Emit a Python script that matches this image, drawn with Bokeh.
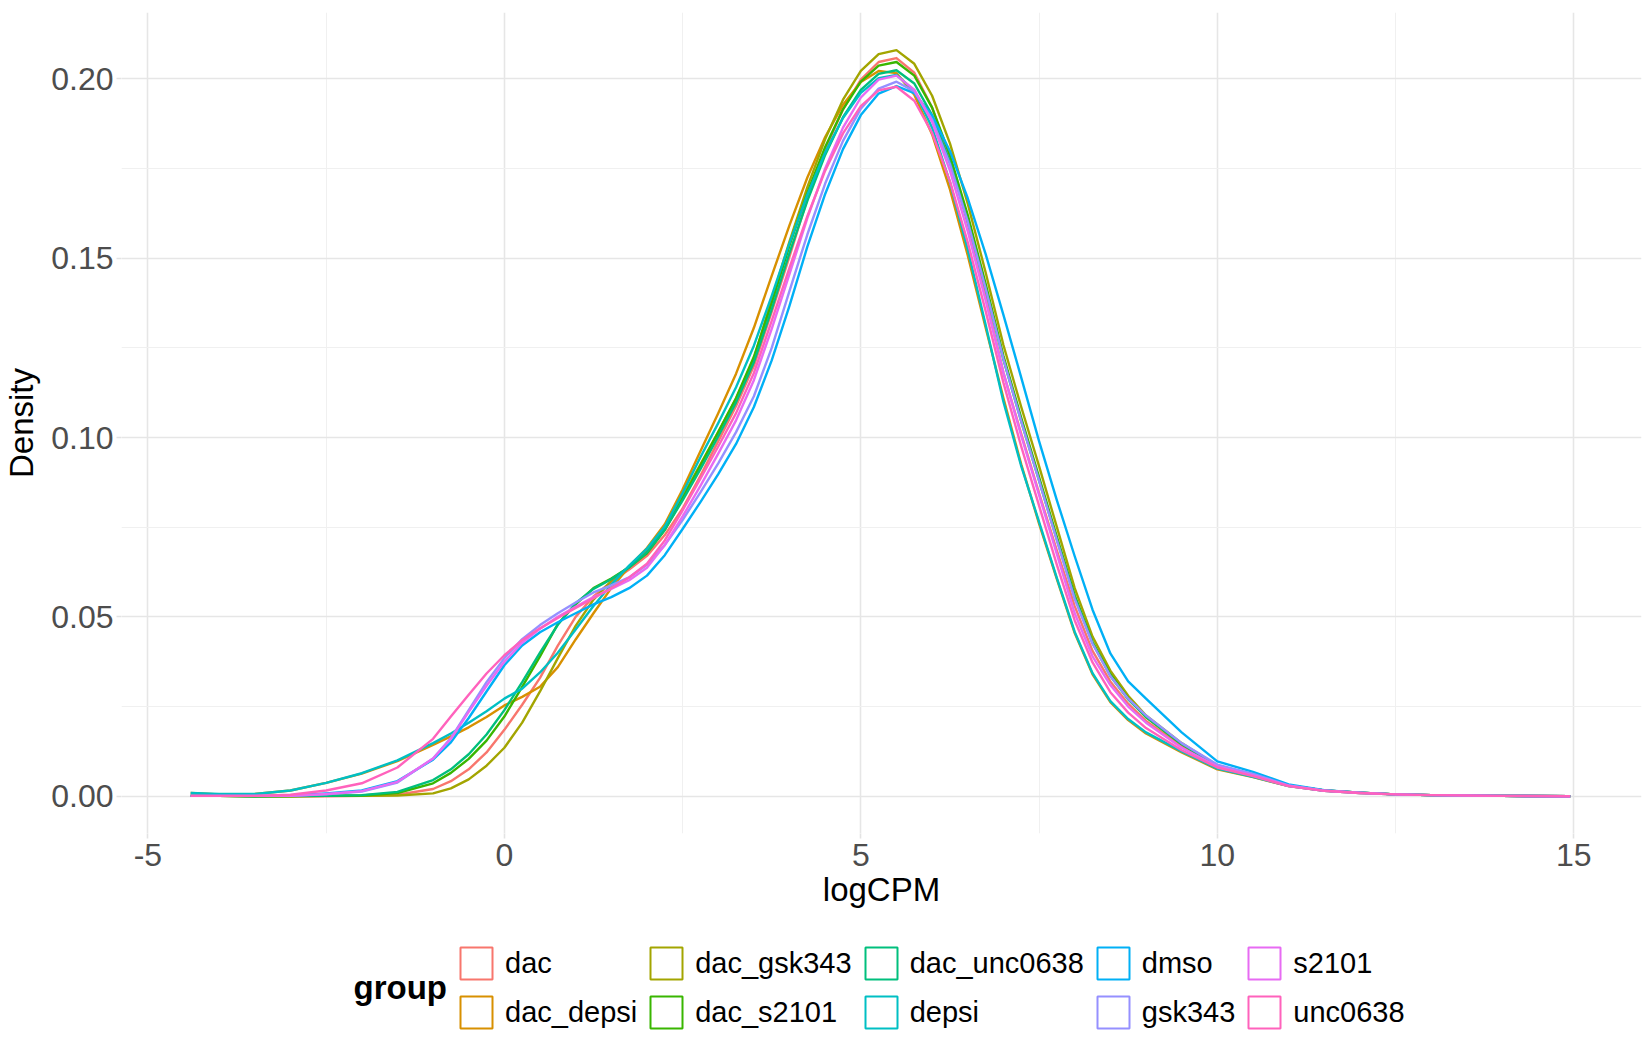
from bokeh.plotting import figure
from bokeh.models import Legend, LegendItem, Range1d, FixedTicker, Label, NumeralTickFormatter
from bokeh.layouts import column
from bokeh.embed import file_html
from bokeh.resources import INLINE

FONT = "Liberation Sans"
NAN = float("nan")

groups = ["dac", "dac_depsi", "dac_gsk343", "dac_s2101", "dac_unc0638",
          "depsi", "dmso", "gsk343", "s2101", "unc0638"]
colors = ["#F8766D", "#D89000", "#A3A500", "#39B600", "#00BF7D",
          "#00BFC4", "#00B0F6", "#9590FF", "#E76BF3", "#FF62BC"]

logcpm = [-4.4, -4.0, -3.5, -3.0, -2.5, -2.0, -1.5, -1.0, -0.75, -0.5, -0.25, 0.0,
          0.25, 0.5, 0.75, 1.0, 1.25, 1.5, 1.75, 2.0, 2.25, 2.5, 2.75, 3.0, 3.25, 3.5, 3.75, 4.0,
          4.25, 4.5, 4.75, 5.0, 5.25, 5.5, 5.75, 6.0, 6.25, 6.5, 6.75, 7.0,
          7.25, 7.5, 7.75, 8.0, 8.25, 8.5, 8.75, 9.0, 9.5, 10.0, 10.5, 11.0, 11.5, 12.0, 12.5, 13.0, 14.0, 14.95]

density_dac = [0.0001, 0.0001, 0.0000, 0.0000, 0.0000, 0.0001, 0.0004, 0.0020, 0.0042, 0.0075, 0.0122, 0.0185,
               0.0255, 0.0330, 0.0420, 0.0500, 0.0557, 0.0598, 0.0632, 0.0670, 0.0728, 0.0802, 0.0893, 0.0990, 0.1088, 0.1200, 0.1350, 0.1505,
               0.1665, 0.1803, 0.1915, 0.1998, 0.2047, 0.2058, 0.2017, 0.1920, 0.1776, 0.1595, 0.1393, 0.1181,
               0.1010, 0.0845, 0.0685, 0.0530, 0.0405, 0.0320, 0.0258, 0.0210, 0.0140, 0.0083, 0.0060, 0.0030, 0.0016, 0.0010, 0.0005, 0.0003, 0.0001, 0.0000]
density_dac_depsi = [0.0009, 0.0005, 0.0006, 0.0016, 0.0037, 0.0063, 0.0098, 0.0143, 0.0167, 0.0192, 0.0221, 0.0253,
                     0.0277, 0.0305, 0.0360, 0.0437, 0.0510, 0.0580, 0.0640, 0.0692, 0.0758, 0.0855, 0.0962, 0.1068, 0.1178, 0.1306, 0.1451, 0.1592,
                     0.1725, 0.1838, 0.1928, 0.1991, 0.2022, 0.2016, 0.1956, 0.1845, 0.1692, 0.1508, 0.1307, 0.1110,
                     0.0925, 0.0760, 0.0605, 0.0455, 0.0340, 0.0262, 0.0212, 0.0175, 0.0122, 0.0075, 0.0053, 0.0028, 0.0015, 0.0009, 0.0005, 0.0003, 0.0001, 0.0000]
density_dac_gsk343 = [0.0001, 0.0001, 0.0000, 0.0000, 0.0001, 0.0001, 0.0002, 0.0008, 0.0022, 0.0047, 0.0085, 0.0135,
                      0.0205, 0.0292, 0.0385, 0.0475, 0.0548, 0.0600, 0.0640, 0.0683, 0.0748, 0.0835, 0.0925, 0.1015, 0.1108, 0.1220, 0.1385, 0.1547,
                      0.1698, 0.1832, 0.1942, 0.2022, 0.2069, 0.2080, 0.2042, 0.1953, 0.1820, 0.1652, 0.1461, 0.1258,
                      0.1085, 0.0920, 0.0750, 0.0580, 0.0445, 0.0350, 0.0280, 0.0225, 0.0148, 0.0085, 0.0060, 0.0030, 0.0016, 0.0010, 0.0005, 0.0003, 0.0001, 0.0000]
density_dac_s2101 = [0.0001, 0.0001, 0.0000, 0.0000, 0.0001, 0.0002, 0.0009, 0.0036, 0.0065, 0.0104, 0.0155, 0.0222,
                     0.0305, 0.0390, 0.0480, 0.0535, 0.0580, 0.0607, 0.0638, 0.0677, 0.0742, 0.0830, 0.0922, 0.1015, 0.1110, 0.1225, 0.1375, 0.1536,
                     0.1682, 0.1810, 0.1915, 0.1992, 0.2037, 0.2047, 0.2009, 0.1920, 0.1787, 0.1620, 0.1429, 0.1228,
                     0.1055, 0.0890, 0.0723, 0.0560, 0.0430, 0.0340, 0.0273, 0.0220, 0.0145, 0.0085, 0.0060, 0.0030, 0.0016, 0.0010, 0.0005, 0.0003, 0.0001, 0.0000]
density_dac_unc0638 = [0.0001, 0.0001, 0.0000, 0.0001, 0.0001, 0.0003, 0.0012, 0.0045, 0.0075, 0.0117, 0.0172, 0.0240,
                       0.0318, 0.0400, 0.0478, 0.0538, 0.0578, 0.0605, 0.0638, 0.0680, 0.0743, 0.0825, 0.0912, 0.1003, 0.1098, 0.1210, 0.1357, 0.1515,
                       0.1660, 0.1788, 0.1893, 0.1969, 0.2014, 0.2024, 0.1987, 0.1899, 0.1768, 0.1603, 0.1415, 0.1217,
                       0.1045, 0.0880, 0.0715, 0.0555, 0.0427, 0.0335, 0.0270, 0.0222, 0.0146, 0.0086, 0.0061, 0.0030, 0.0016, 0.0010, 0.0005, 0.0003, 0.0001, 0.0000]
density_depsi = [0.0009, 0.0006, 0.0006, 0.0016, 0.0037, 0.0064, 0.0100, 0.0148, 0.0175, 0.0205, 0.0237, 0.0272,
                 0.0300, 0.0345, 0.0400, 0.0465, 0.0530, 0.0590, 0.0643, 0.0690, 0.0752, 0.0845, 0.0945, 0.1040, 0.1140, 0.1256, 0.1395, 0.1542,
                 0.1677, 0.1795, 0.1891, 0.1961, 0.2002, 0.2011, 0.1967, 0.1864, 0.1712, 0.1524, 0.1315, 0.1100,
                 0.0920, 0.0765, 0.0608, 0.0458, 0.0343, 0.0265, 0.0215, 0.0178, 0.0125, 0.0077, 0.0054, 0.0028, 0.0015, 0.0009, 0.0005, 0.0003, 0.0001, 0.0000]
density_dmso = [0.0001, 0.0001, 0.0001, 0.0002, 0.0008, 0.0016, 0.0042, 0.0102, 0.0150, 0.0218, 0.0292, 0.0365,
                0.0420, 0.0457, 0.0485, 0.0510, 0.0535, 0.0555, 0.0580, 0.0615, 0.0672, 0.0745, 0.0820, 0.0898, 0.0982, 0.1085, 0.1215, 0.1368,
                0.1532, 0.1679, 0.1804, 0.1899, 0.1959, 0.1980, 0.1960, 0.1898, 0.1799, 0.1667, 0.1512, 0.1342,
                0.1167, 0.0990, 0.0825, 0.0669, 0.0520, 0.0398, 0.0320, 0.0272, 0.0178, 0.0097, 0.0068, 0.0033, 0.0017, 0.0010, 0.0005, 0.0003, 0.0001, 0.0000]
density_gsk343 = [0.0001, 0.0001, 0.0001, 0.0001, 0.0005, 0.0013, 0.0038, 0.0105, 0.0162, 0.0240, 0.0318, 0.0385,
                  0.0438, 0.0477, 0.0510, 0.0540, 0.0568, 0.0588, 0.0610, 0.0645, 0.0700, 0.0770, 0.0847, 0.0928, 0.1015, 0.1115, 0.1250, 0.1409,
                  0.1566, 0.1708, 0.1827, 0.1917, 0.1973, 0.1992, 0.1965, 0.1886, 0.1762, 0.1601, 0.1416, 0.1219,
                  0.1045, 0.0880, 0.0713, 0.0550, 0.0425, 0.0335, 0.0272, 0.0225, 0.0148, 0.0088, 0.0062, 0.0030, 0.0016, 0.0010, 0.0005, 0.0003, 0.0001, 0.0000]
density_s2101 = [0.0001, 0.0001, 0.0001, 0.0001, 0.0006, 0.0014, 0.0040, 0.0105, 0.0160, 0.0235, 0.0308, 0.0375,
                 0.0428, 0.0467, 0.0500, 0.0528, 0.0555, 0.0578, 0.0602, 0.0637, 0.0700, 0.0780, 0.0865, 0.0955, 0.1048, 0.1160, 0.1303, 0.1456,
                 0.1612, 0.1750, 0.1864, 0.1948, 0.1998, 0.2009, 0.1970, 0.1880, 0.1744, 0.1575, 0.1383, 0.1181,
                 0.1005, 0.0840, 0.0675, 0.0510, 0.0390, 0.0310, 0.0250, 0.0205, 0.0135, 0.0083, 0.0058, 0.0029, 0.0015, 0.0009, 0.0005, 0.0003, 0.0001, 0.0000]
density_unc0638 = [0.0001, 0.0001, 0.0001, 0.0004, 0.0016, 0.0036, 0.0080, 0.0160, 0.0222, 0.0283, 0.0342, 0.0393,
                   0.0435, 0.0468, 0.0497, 0.0525, 0.0552, 0.0580, 0.0610, 0.0648, 0.0713, 0.0797, 0.0885, 0.0975, 0.1068, 0.1180, 0.1325, 0.1474,
                   0.1617, 0.1744, 0.1848, 0.1924, 0.1968, 0.1978, 0.1939, 0.1849, 0.1714, 0.1544, 0.1353, 0.1153,
                   0.0975, 0.0810, 0.0645, 0.0490, 0.0373, 0.0290, 0.0233, 0.0190, 0.0128, 0.0080, 0.0056, 0.0028, 0.0015, 0.0009, 0.0005, 0.0003, 0.0001, 0.0000]

series = [density_dac, density_dac_depsi, density_dac_gsk343, density_dac_s2101, density_dac_unc0638,
          density_depsi, density_dmso, density_gsk343, density_s2101, density_unc0638]
for s in series:
    if len(s) != len(logcpm):
        raise ValueError("series length mismatch: %d vs %d" % (len(s), len(logcpm)))

x_ticks = [-5, 0, 5, 10, 15]
x_tick_labels = ["-5", "0", "5", "10", "15"]
x_minor = [-2.5, 2.5, 7.5, 12.5]
y_ticks = [0.0, 0.05, 0.10, 0.15, 0.20]
y_minor = [0.025, 0.075, 0.125, 0.175]

p = figure(frame_width=1520, frame_height=821,
           min_border_left=113, min_border_right=1, min_border_top=12, min_border_bottom=90,
           x_range=Range1d(-5.37, 15.95), y_range=Range1d(-0.0104, 0.2185),
           x_axis_label="logCPM", y_axis_label="Density",
           output_backend="svg", toolbar_location=None)
p.outline_line_color = None
p.background_fill_color = "white"
p.border_fill_color = "white"

for g, c, ys in zip(groups, colors, series):
    p.line(logcpm, ys, line_color=c, line_width=2.4, line_join="round")

xt = FixedTicker(ticks=x_ticks, minor_ticks=x_minor)
yt = FixedTicker(ticks=y_ticks, minor_ticks=y_minor)
p.xaxis.ticker = xt
p.yaxis.ticker = yt
p.xgrid.ticker = xt
p.ygrid.ticker = yt
p.xaxis.major_label_overrides = {t: l for t, l in zip(x_ticks, x_tick_labels)}
p.yaxis.formatter = NumeralTickFormatter(format="0.00")

for grid in (p.xgrid, p.ygrid):
    grid.grid_line_color = "#E6E6E6"
    grid.grid_line_width = 1.6
    grid.minor_grid_line_color = "#F0F0F0"
    grid.minor_grid_line_width = 1.0

for ax in (p.xaxis, p.yaxis):
    ax.axis_line_color = None
    ax.major_tick_line_color = "#E3E3E3"
    ax.major_tick_line_width = 1.6
    ax.major_tick_out = 5
    ax.major_tick_in = 0
    ax.minor_tick_out = 0
    ax.minor_tick_in = 0
    ax.major_label_text_font = FONT
    ax.major_label_text_font_size = "32px"
    ax.major_label_text_color = "#4D4D4D"
    ax.axis_label_text_font = FONT
    ax.axis_label_text_font_size = "33px"
    ax.axis_label_text_font_style = "normal"
    ax.axis_label_text_color = "#000000"

p.xaxis.major_label_standoff = 5
p.xaxis.axis_label_standoff = 2
p.yaxis.major_label_standoff = 3
p.yaxis.axis_label_standoff = 8

# legend panel (frame aligned with the plot frame above; x measured in page pixels)
p2 = figure(frame_width=1520, frame_height=119,
            min_border_left=113, min_border_right=1, min_border_top=0, min_border_bottom=0,
            x_range=Range1d(113, 1633), y_range=Range1d(0, 119),
            x_axis_location=None, y_axis_location=None,
            output_backend="svg", toolbar_location=None)
p2.grid.visible = False
p2.outline_line_color = None

items = []
for g, c in zip(groups, colors):
    r = p2.rect(x=[NAN], y=[NAN], width=1, height=1, fill_color=None, fill_alpha=0,
                line_color=c, line_width=2)
    items.append(LegendItem(label=g, renderers=[r]))

leg = Legend(items=items, orientation="vertical", nrows=2, location=(418, 10),
             glyph_width=40, glyph_height=40, label_standoff=9, spacing=9,
             padding=0, margin=0, border_line_color=None, background_fill_alpha=0,
             label_text_font=FONT, label_text_font_size="29px", label_text_color="#000000")
p2.add_layout(leg, "center")

p2.add_layout(Label(x=345, y=55, text="group", text_font=FONT, text_font_size="33px",
                    text_font_style="bold", text_baseline="middle", text_align="left",
                    text_color="#000000"))

layout = column(p, p2, spacing=0)
open("out.html", "w").write(file_html(layout, INLINE))
